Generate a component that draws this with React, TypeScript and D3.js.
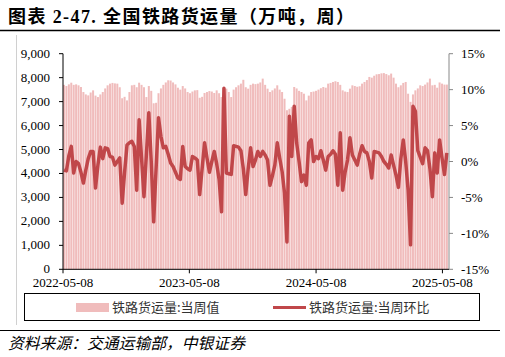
import React from "react";
import * as d3 from "d3";

const startDate = "2022-05-08";
const weeklyVolume: number[] = [
  7700, 7650, 7720, 7790, 7700, 7720, 7680, 7610, 7400, 7300,
  7260, 7380, 7470, 7250, 7190, 7300, 7400, 7550, 7680, 7750,
  7780, 7760, 7750, 7600, 7140, 7200, 7050, 7400, 7680, 7700,
  7600, 7790, 7700, 7600, 7190, 7650, 7450, 6930, 6950, 7350,
  7550, 7700, 7800, 7890, 7880, 7800, 7720, 7580, 7500, 7650,
  7550, 7400, 7350, 7420, 7470, 7480, 7160, 7200, 7360, 7400,
  7440, 7420, 7360, 7470, 7350, 7190, 7580, 7540, 7400, 7190,
  7500, 7600, 7680, 7750, 7910, 7600, 7540, 7700, 7750, 7730,
  7750, 7800, 7960, 7700, 7540, 7400, 7470, 7550, 7680, 7500,
  7400, 7120, 6640, 6700, 6780, 7610, 7550, 7450, 7400, 7330,
  7050, 7250, 7400, 7420, 7450, 7500, 7560, 7610, 7580, 7750,
  7780, 7820, 7850, 7820, 7700, 7470, 7420, 7400, 7540, 7680,
  7650, 7620, 7640, 7750, 7820, 7900, 8030, 8000, 8080, 8140,
  8150, 8180, 8190, 8150, 8100, 8170, 8000, 7750, 7600, 7680,
  7780, 7820, 7330, 6990, 7300, 7470, 7550, 7680, 7650, 7710,
  7800, 7960, 7680, 7700, 7580, 7800, 7750, 7710, 7710,
];
const weeklyChange: number[] = [
  -1.2, -1.3, 0.8, 2.1, -1.6, 0.0, -0.3, -1.5, -3.0, -1.2,
  0.4, 1.4, 1.4, -3.7, -0.5, 2.0, 0.4, 1.9, 1.8, 0.7,
  0.6, -0.5, 0.0, 0.5, -5.8, -1.5, 2.3, 2.6, 2.8, 2.1,
  -4.0, 5.8, 0.5, -4.9, 1.0, 6.8, 0.0, -8.4, -1.0, 6.1,
  3.5, 1.9, 2.1, 1.0, -0.2, -0.7, -1.5, -2.3, -2.5, 2.1,
  -0.7, -1.0, -1.2, 0.7, 0.5, 0.2, -4.6, -1.0, 2.6, 0.5,
  -1.5, 0.0, 1.4, -0.3, -2.5, -7.0, 10.2, -1.6, -1.7, -1.8,
  2.2, 2.1, 2.0, 1.5, -1.0, -4.6, -1.0, 1.9, -0.7, 0.2,
  1.4, 0.7, 1.4, 0.9, 0.2, -3.3, -2.0, -0.5, 2.6, 0.5,
  -1.4, -4.4, -11.2, 6.3, 0.7, 7.7, 2.6, 0.0, -2.8, -1.9,
  -3.3, 2.6, 3.0, 0.0, 0.7, 0.4, 1.5, 0.2, -1.2, 0.7,
  1.0, 1.5, 1.0, -3.3, 4.0, -4.0, -1.5, 0.2, 3.3, 0.9,
  0.2, -0.5, 1.0, 2.2, 1.4, 1.2, 0.0, -2.3, 1.4, 1.3,
  1.2, 0.7, 0.0, -0.4, -0.9, 0.9, -0.5, -1.9, -3.6, 0.4,
  3.0, 0.0, -4.0, -11.6, 7.7, 7.0, 1.5, 0.6, -0.3, 1.9,
  1.5, -1.0, -4.9, 1.2, -1.6, 3.0, 0.5, -1.8, 1.2,
];
const leftTicks = [0, 1000, 2000, 3000, 4000, 5000, 6000, 7000, 8000, 9000];
const rightTicks = [-15, -10, -5, 0, 5, 10, 15];
const xTickLabels = ["2022-05-08", "2023-05-08", "2024-05-08", "2025-05-08"];
const axisEnd = "2025-05-27";
const titleText = "图表 2-47. 全国铁路货运量（万吨，周）";
const sourceText = "资料来源：交通运输部，中银证券";
const seriesNames = ["铁路货运量:当周值", "铁路货运量:当周环比"];

const parse = d3.utcParse("%Y-%m-%d");

export default function App() {
  const W = 505, H = 357;
  const x0 = 63, x1 = 449, yTop = 53.7, yBot = 269.3;
  const start = parse(startDate) as Date;
  const dates = weeklyVolume.map((_, i) => d3.utcDay.offset(start, 7 * i));
  const x = d3.scaleUtc().domain([start, parse(axisEnd) as Date]).range([x0, x1]);
  const yL = d3.scaleLinear().domain([0, 9000]).range([yBot, yTop]);
  const yR = d3.scaleLinear().domain([-15, 15]).range([yBot, yTop]);
  const bw = 2.0;
  const line = d3
    .line<number>()
    .x((_, i) => x(dates[i]) + bw / 2)
    .y((d) => yR(d))
    .curve(d3.curveLinear);
  const serif = "'Liberation Serif', 'Noto Sans CJK SC', serif";
  const cjk = "'Noto Sans CJK SC', 'Liberation Serif', sans-serif";
  const barColor = "#f0bcbc";
  const lineColor = "#c0474a";
  return (
    <svg width={W} height={H} style={{ position: "absolute", left: 0, top: 0, background: "#fff" }}>
      <text x={8} y={23} fontFamily={serif} fontWeight="bold" fontSize={18} letterSpacing={1.4} fill="#000">
        {titleText}
      </text>
      <line x1={0} x2={500} y1={30.5} y2={30.5} stroke="#000" strokeWidth={1.5} />
      <line x1={16.5} x2={16.5} y1={35} y2={325} stroke="#d0d0d0" strokeWidth={1} />
      <line x1={0} x2={500} y1={330.5} y2={330.5} stroke="#000" strokeWidth={1} />
      <text x={8} y={349} fontFamily={cjk} fontStyle="italic" fontSize={15.8} fill="#000">
        {sourceText}
      </text>

      {/* bars */}
      <g>
        {weeklyVolume.map((v, i) => (
          <rect key={i} x={x(dates[i])} y={yL(v)} width={bw} height={yBot - yL(v)} fill={barColor} />
        ))}
      </g>
      {/* line */}
      <path d={line(weeklyChange) || ""} fill="none" stroke={lineColor} strokeWidth={3.5} strokeLinejoin="round" />

      {/* left axis */}
      <line x1={x0} x2={x0} y1={yTop} y2={yBot} stroke="#000" strokeWidth={1} />
      {leftTicks.map((t) => (
        <g key={t}>
          <line x1={x0 - 4} x2={x0} y1={yL(t)} y2={yL(t)} stroke="#000" />
          <text x={50} y={yL(t) + 4} textAnchor="end" fontFamily={serif} fontSize={13} fill="#000">
            {d3.format(",")(t)}
          </text>
        </g>
      ))}
      {/* right axis */}
      <line x1={x1} x2={x1} y1={yTop} y2={yBot} stroke="#888" strokeWidth={1} />
      {rightTicks.map((t) => (
        <g key={t}>
          <line x1={x1} x2={x1 + 4} y1={yR(t)} y2={yR(t)} stroke="#888" />
          <text x={461} y={yR(t) + 4.5} textAnchor="start" fontFamily={serif} fontSize={13} fill="#000">
            {t + "%"}
          </text>
        </g>
      ))}
      {/* bottom axis */}
      <line x1={x0} x2={x1} y1={yBot} y2={yBot} stroke="#000" strokeWidth={1} />
      {xTickLabels.map((s) => {
        const xx = x(parse(s) as Date);
        return (
          <g key={s}>
            <line x1={xx} x2={xx} y1={yBot} y2={yBot + 4} stroke="#000" />
            <text x={xx} y={287} textAnchor="middle" fontFamily={serif} fontSize={13} fill="#000">
              {s}
            </text>
          </g>
        );
      })}

      {/* legend */}
      <rect x={24.5} y={293.5} width={455} height={27} fill="none" stroke="#000" strokeWidth={1} />
      <rect x={76} y={303} width={33} height={9} fill={barColor} />
      <text x={112} y={312} fontFamily={cjk} fontSize={13} fill="#333">
        {seriesNames[0]}
      </text>
      <line x1={273} x2={306} y1={307.5} y2={307.5} stroke={lineColor} strokeWidth={3} />
      <text x={309} y={312} fontFamily={cjk} fontSize={13} fill="#333">
        {seriesNames[1]}
      </text>
    </svg>
  );
}
